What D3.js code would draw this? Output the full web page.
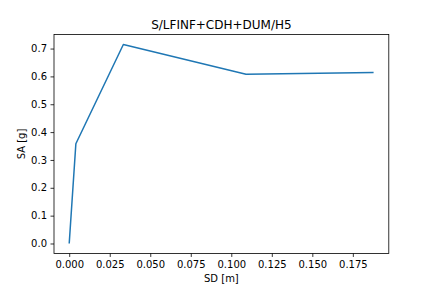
<!DOCTYPE html>
<html>
<head>
<meta charset="utf-8">
<script src="https://cdn.jsdelivr.net/npm/d3@7"></script>
<style>
  body { margin: 0; background: #fff; }
  text { font-family: "DejaVu Sans", sans-serif; fill: #000; }
</style>
</head>
<body>
<div id="viz"></div>
<script>
const sd = [0.0, 0.0041, 0.0334, 0.1091, 0.1878];
const sa = [0.0, 0.358, 0.7145, 0.608, 0.6140];
const xTicks = [0.0, 0.025, 0.05, 0.075, 0.1, 0.125, 0.15, 0.175];
const yTicks = [0.0, 0.1, 0.2, 0.3, 0.4, 0.5, 0.6, 0.7];

function buildChart(containerId) {
    const width = 432;
    const height = 288;

    const margin = { top: 34.56, bottom: 34.56, left: 54, right: 43.2 };
    const innerWidth = width - margin.left - margin.right;
    const innerHeight = height - margin.top - margin.bottom;

    const svg = d3.select(containerId)
        .append('svg')
        .attr('width', width)
        .attr('height', height);

    const g = svg.append('g')
        .attr('transform', `translate(${margin.left},${margin.top})`);

    // matplotlib-like 5% margins
    const xExt = d3.extent(sd), yExt = d3.extent(sa);
    const xPad = (xExt[1] - xExt[0]) * 0.05, yPad = (yExt[1] - yExt[0]) * 0.05;

    const x = d3.scaleLinear()
        .domain([xExt[0] - xPad, xExt[1] + xPad])
        .range([0, innerWidth]);
    const y = d3.scaleLinear()
        .domain([yExt[0] - yPad, yExt[1] + yPad])
        .range([innerHeight, 0]);

    const xAxis = d3.axisBottom(x).tickValues(xTicks).tickFormat(d3.format('.3f'))
        .tickSizeInner(3.5).tickSizeOuter(0).tickPadding(3.5);
    const yAxis = d3.axisLeft(y).tickValues(yTicks).tickFormat(d3.format('.1f'))
        .tickSizeInner(3.5).tickSizeOuter(0).tickPadding(3.5);

    const gx = g.append('g')
        .attr('transform', `translate(0,${innerHeight})`)
        .call(xAxis);
    const gy = g.append('g').call(yAxis);

    [gx, gy].forEach(a => {
        a.select('.domain').remove();
        a.selectAll('.tick line').attr('stroke', '#000').attr('stroke-width', 0.8);
        a.selectAll('.tick text').attr('font-size', 10).attr('font-family', 'DejaVu Sans');
    });

    const line = d3.line()
        .x((d, i) => x(sd[i]))
        .y(d => y(d));

    g.append('path')
        .datum(sa)
        .attr('fill', 'none')
        .attr('stroke', '#1f77b4')
        .attr('stroke-width', 1.5)
        .attr('stroke-linejoin', 'round')
        .attr('d', line);

    g.append('rect')
        .attr('width', innerWidth)
        .attr('height', innerHeight)
        .attr('fill', 'none')
        .attr('stroke', '#000')
        .attr('stroke-width', 0.8);

    svg.append('text')
        .attr('x', margin.left + innerWidth / 2)
        .attr('y', margin.top - 6)
        .attr('text-anchor', 'middle')
        .attr('font-size', 12)
        .text('S/LFINF+CDH+DUM/H5');

    svg.append('text')
        .attr('x', margin.left + innerWidth / 2)
        .attr('y', height - 6.5)
        .attr('text-anchor', 'middle')
        .attr('font-size', 10)
        .text('SD [m]');

    svg.append('text')
        .attr('transform', `translate(${25},${margin.top + innerHeight / 2}) rotate(-90)`)
        .attr('text-anchor', 'middle')
        .attr('font-size', 10)
        .text('SA [g]');
}

buildChart('#viz');
</script>
</body>
</html>
